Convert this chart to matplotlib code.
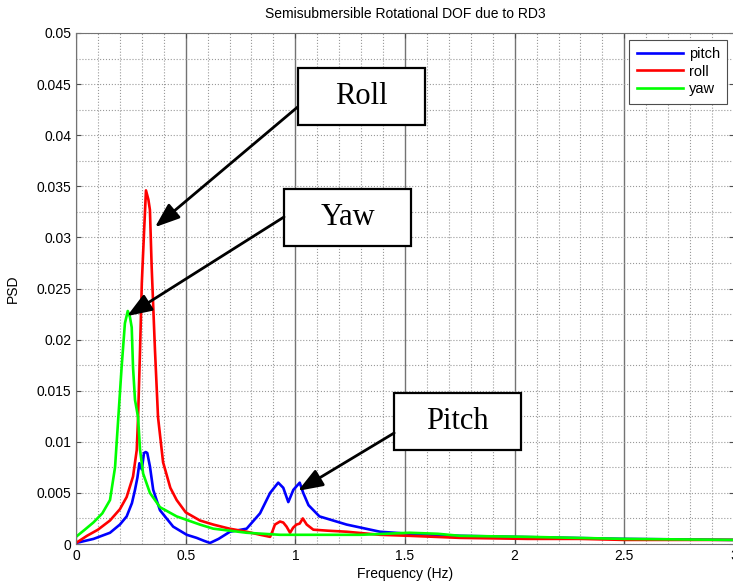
import matplotlib
matplotlib.use("Agg")
import matplotlib.pyplot as plt
from matplotlib.patches import Rectangle
from matplotlib.ticker import MultipleLocator

plt.rcParams['font.family'] = ['Liberation Sans', 'DejaVu Sans']

# PSD of the three rotational DOFs (Hz, PSD)
pitch_f = [0, 0.08, 0.155, 0.20, 0.231, 0.255, 0.269, 0.28, 0.289, 0.30, 0.31, 0.318,
           0.325, 0.337, 0.352, 0.383, 0.443, 0.474, 0.505, 0.55, 0.585, 0.611, 0.65,
           0.702, 0.778, 0.839, 0.885, 0.922, 0.945, 0.968, 0.991, 1.02, 1.036, 1.06,
           1.11, 1.234, 1.386, 1.52, 1.75, 2.0, 2.5, 3.0]
pitch_psd = [0.0001, 0.0005, 0.0011, 0.0019, 0.0027, 0.0040, 0.0053, 0.0065, 0.0079,
             0.0073, 0.0089, 0.0090, 0.0089, 0.0076, 0.0053, 0.0033, 0.0017, 0.0013,
             0.0009, 0.0006, 0.0003, 0.0001, 0.0005, 0.0012, 0.0015, 0.0030, 0.0050,
             0.0060, 0.0055, 0.0041, 0.0053, 0.0060, 0.0050, 0.0038, 0.0027, 0.0019,
             0.0012, 0.0010, 0.0008, 0.0007, 0.0005, 0.0004]

roll_f = [0, 0.05, 0.10, 0.155, 0.20, 0.231, 0.26, 0.277, 0.283, 0.292, 0.30, 0.31,
          0.319, 0.33, 0.337, 0.345, 0.36, 0.374, 0.397, 0.43, 0.459, 0.50, 0.565,
          0.626, 0.70, 0.778, 0.84, 0.885, 0.895, 0.907, 0.93, 0.945, 0.96, 0.976,
          0.99, 1.005, 1.02, 1.034, 1.052, 1.082, 1.15, 1.234, 1.386, 1.52, 1.75,
          2.06, 2.3, 2.5, 2.7, 3.0]
roll_psd = [0.0001, 0.0008, 0.0014, 0.0023, 0.0034, 0.0046, 0.0066, 0.0092, 0.0124,
            0.0190, 0.0255, 0.0304, 0.0346, 0.0337, 0.0327, 0.0271, 0.0190, 0.0124,
            0.0080, 0.0055, 0.0043, 0.0031, 0.0023, 0.0019, 0.0015, 0.0012, 0.0009,
            0.0007, 0.0012, 0.0019, 0.0022, 0.0021, 0.0017, 0.0011, 0.0016, 0.0019,
            0.0020, 0.0025, 0.0019, 0.0014, 0.0013, 0.0012, 0.0009, 0.0008, 0.0006,
            0.0005, 0.0005, 0.0004, 0.0004, 0.0004]

yaw_f = [0, 0.04, 0.079, 0.12, 0.155, 0.178, 0.193, 0.208, 0.223, 0.236, 0.246, 0.254,
         0.26, 0.269, 0.283, 0.292, 0.306, 0.337, 0.383, 0.459, 0.565, 0.626, 0.778,
         0.93, 1.08, 1.3, 1.52, 1.65, 1.75, 2.06, 2.5, 3.0]
yaw_psd = [0.0007, 0.0014, 0.0021, 0.0030, 0.0043, 0.0075, 0.0124, 0.0173, 0.0216,
           0.0228, 0.0222, 0.0212, 0.0173, 0.0141, 0.0124, 0.0092, 0.0069, 0.0050,
           0.0036, 0.0027, 0.0019, 0.0015, 0.0011, 0.0009, 0.0009, 0.0009, 0.0011,
           0.0010, 0.0008, 0.0007, 0.0005, 0.0004]

# callout boxes: label, box centre, arrow start y (box left edge), arrow tip
callout_labels = ['Roll', 'Yaw', 'Pitch']
callout_centres = [(1.300, 0.04374), (1.238, 0.0319), (1.740, 0.01199)]
callout_start_y = [0.04276, 0.0320, 0.01086]
callout_tips = [(0.360, 0.0310), (0.2326, 0.0223), (1.012, 0.0052)]
box_w, box_h = 0.579, 0.00558

fig = plt.figure(figsize=(7.33, 5.86), dpi=100)
ax = fig.add_axes([76 / 733, 42 / 586, 658 / 733, 511 / 586])

ax.plot(pitch_f, pitch_psd, color='#0000ff', lw=1.9, label='pitch')
ax.plot(roll_f, roll_psd, color='#ff0000', lw=1.9, label='roll')
ax.plot(yaw_f, yaw_psd, color='#00ff00', lw=1.9, label='yaw')

ax.set_xlim(0, 3)
ax.set_ylim(0, 0.05)
ax.xaxis.set_major_locator(MultipleLocator(0.5))
ax.xaxis.set_minor_locator(MultipleLocator(0.1))
ax.yaxis.set_major_locator(MultipleLocator(0.005))
ax.yaxis.set_minor_locator(MultipleLocator(0.0025))
ax.xaxis.set_major_formatter(plt.FuncFormatter(lambda v, p: f'{v:g}'))
ax.yaxis.set_major_formatter(plt.FuncFormatter(lambda v, p: f'{v:g}'))

ax.grid(which='major', axis='x', ls='-', color='0.45', lw=1.0)
ax.grid(which='minor', axis='x', ls=':', color='0.6', lw=0.8)
ax.grid(which='both', axis='y', ls=':', color='0.6', lw=0.8)
ax.set_axisbelow(True)
ax.tick_params(which='both', direction='in', top=True, right=True, color='0.3', labelsize=10)
ax.tick_params(which='minor', length=0)
for s in ax.spines.values():
    s.set_color('0.45')

ax.set_title('Semisubmersible Rotational DOF due to RD3', fontsize=10, pad=11)
ax.set_xlabel('Frequency (Hz)', fontsize=10, labelpad=3)
ax.set_ylabel('PSD', fontsize=10, labelpad=12)

leg = ax.legend(loc='upper right', fontsize=10.5, fancybox=False, framealpha=1,
                edgecolor='0.3', handlelength=3.2, labelspacing=0.25,
                handletextpad=0.4, borderpad=0.5, borderaxespad=0,
                bbox_to_anchor=(0.990, 0.987))
leg.get_frame().set_linewidth(0.8)

for label, (cx, cy), sy, tip in zip(callout_labels, callout_centres, callout_start_y, callout_tips):
    ax.add_patch(Rectangle((cx - box_w / 2, cy - box_h / 2), box_w, box_h,
                           facecolor='white', edgecolor='black', lw=1.6, zorder=5))
    ax.text(cx, cy, label, ha='center', va='center', fontsize=22,
            family='Liberation Serif', zorder=6)
    ax.annotate('', xy=tip, xytext=(cx - box_w / 2, sy),
                arrowprops=dict(arrowstyle='-|>,head_length=0.75,head_width=0.28',
                                mutation_scale=20, lw=2, color='black',
                                shrinkA=0, shrinkB=0), zorder=6)

fig.savefig('out.png', dpi=100)
